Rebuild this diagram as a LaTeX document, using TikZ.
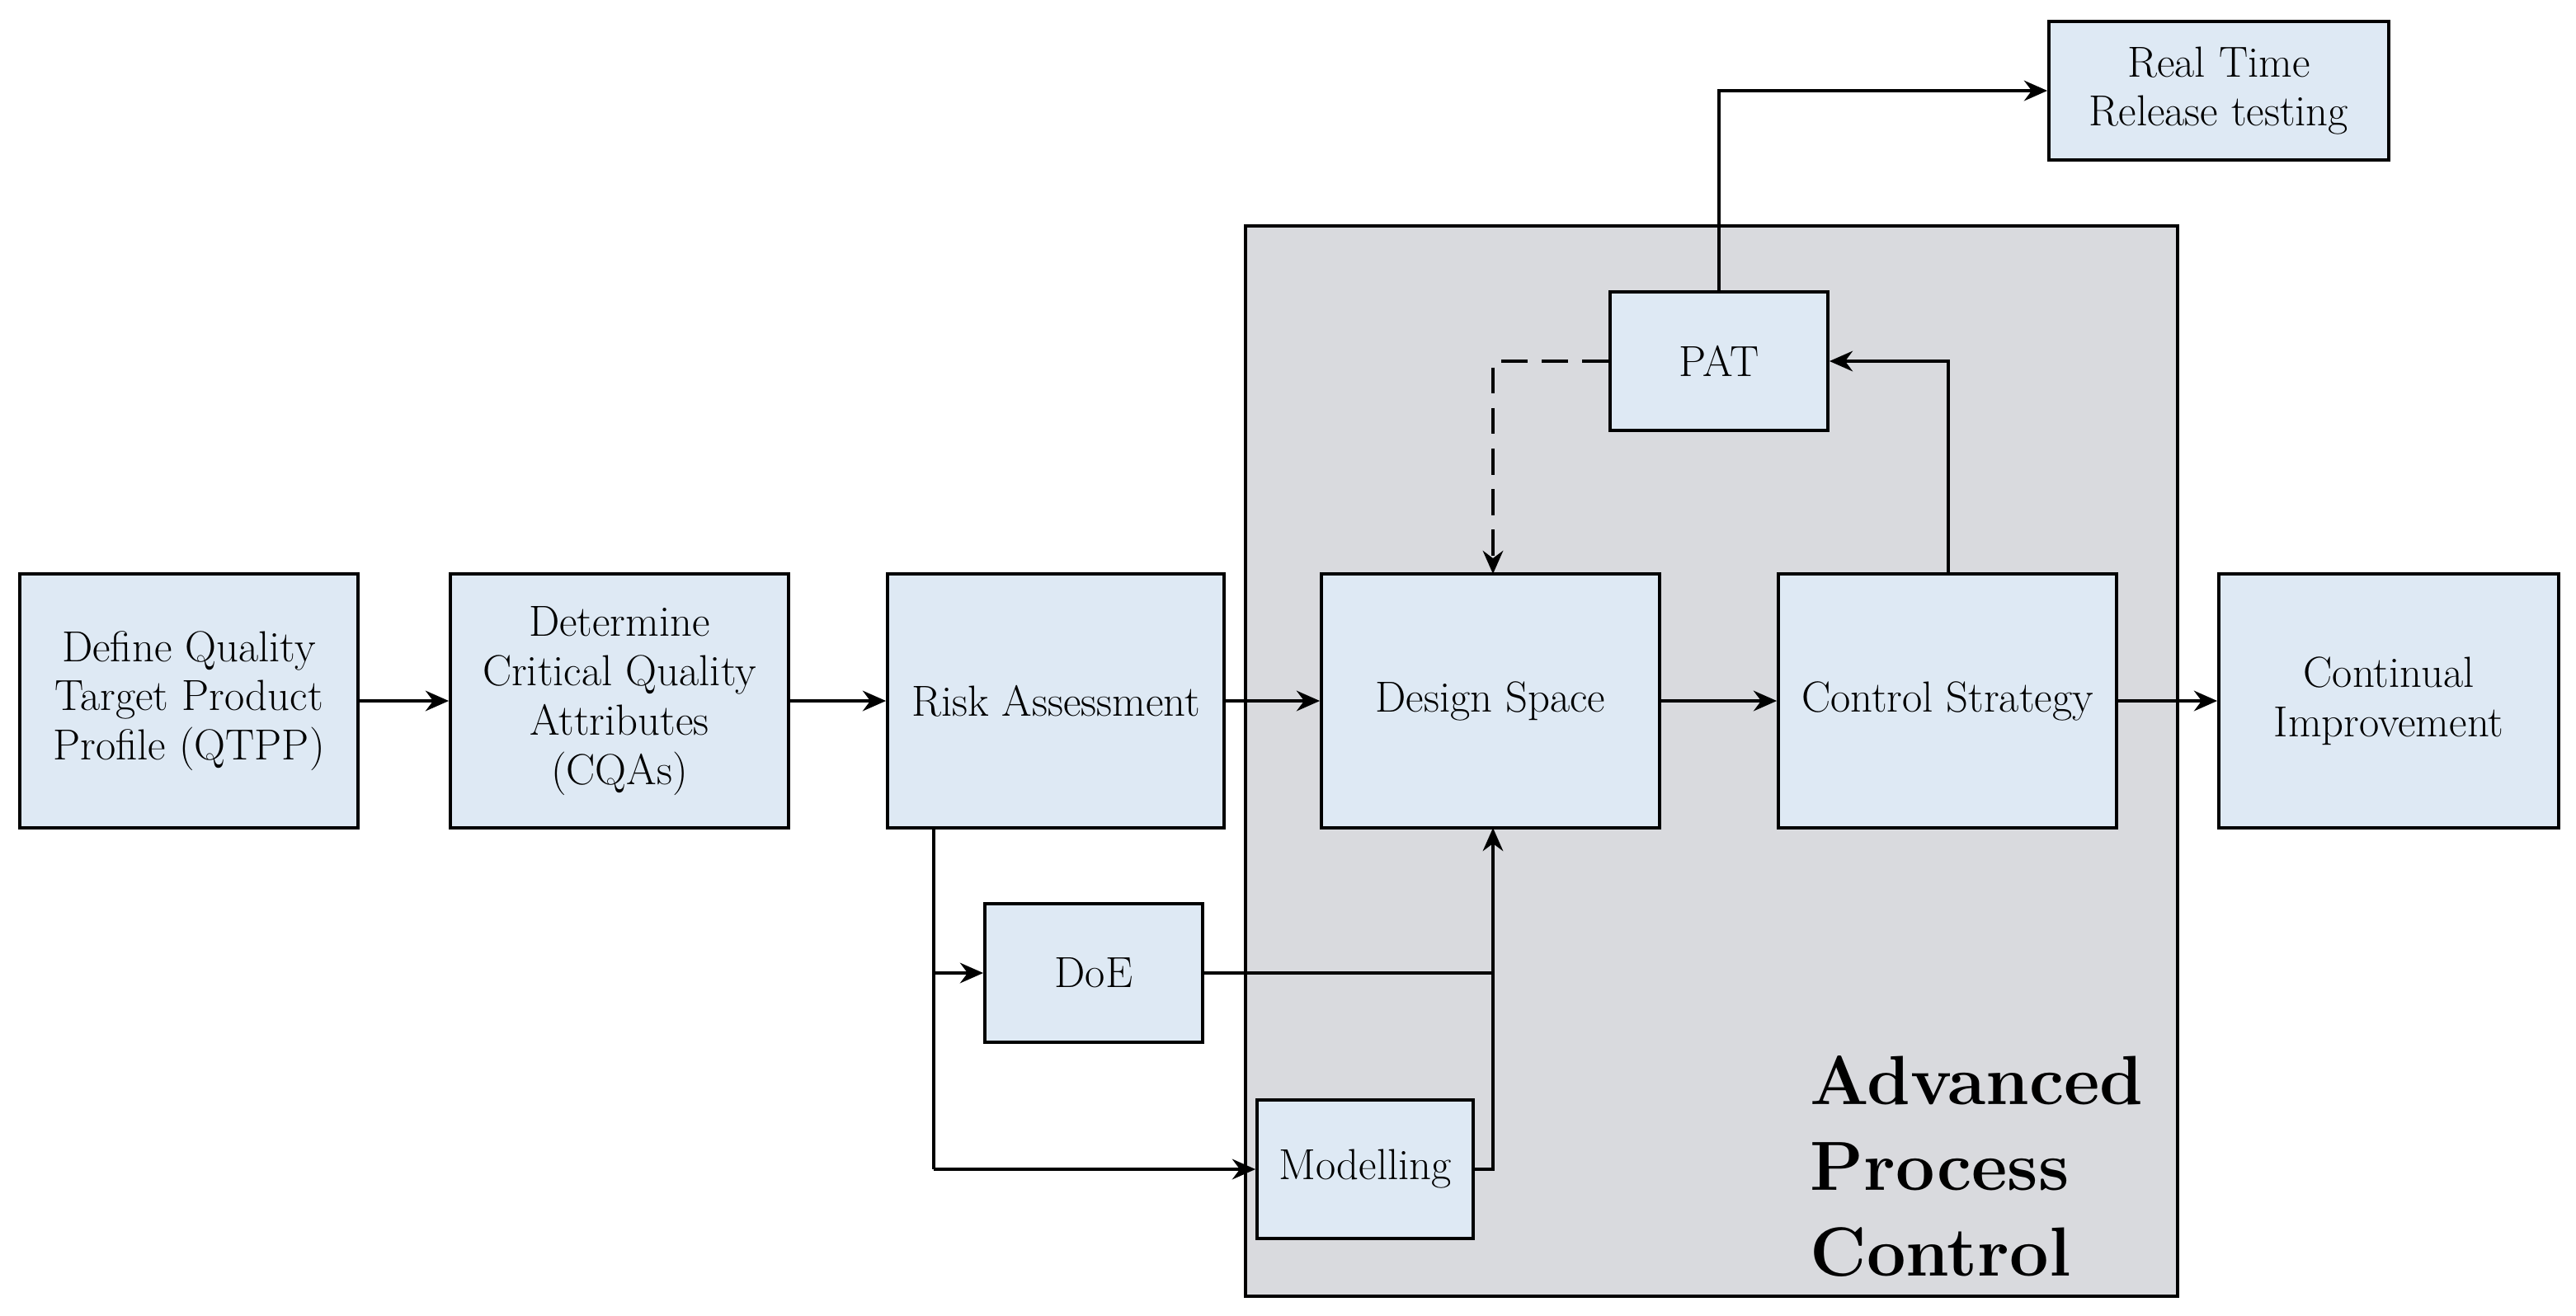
\documentclass[tikz,border=0pt]{standalone}
\usetikzlibrary{arrows.meta}
\begin{document}
\begin{tikzpicture}[x=0.02cm,y=-0.02cm,
 box/.style={draw,line width=1.1pt,fill=boxc,align=center,inner sep=0pt,font=\fontsize{15}{17}\selectfont},
 arr/.style={line width=1.1pt,-{Stealth[length=8pt,width=7pt]}},
 ln/.style={line width=1.1pt}]
\definecolor{boxc}{HTML}{DEE9F4}
\definecolor{grayc}{HTML}{D9DADE}
\useasboundingbox (0,0) rectangle (1561.5,797.5);
\node[draw,line width=1.1pt,fill=grayc,minimum width=565*0.02cm,minimum height=649*0.02cm,inner sep=0pt] (apc) at (1037.5,461.5) {};
\node[anchor=north west,align=left,font=\fontsize{24}{29.5}\bfseries\selectfont,inner sep=0pt] (apct) at (1097,640) {Advanced\\Process\\Control};
\newcommand{\bx}[6]{\node[box,minimum width=#4*0.02cm,minimum height=#5*0.02cm] (#1) at (#2,#3) {#6};}
\bx{q}{114.5}{425}{205}{154}{Define Quality\\Target Product\\Profile (QTPP)}
\bx{c}{375.5}{425}{205}{154}{Determine\\Critical Quality\\Attributes\\(CQAs)}
\bx{r}{640}{425}{204}{154}{Risk Assessment}
\bx{d}{903.5}{425}{205}{154}{Design Space}
\bx{cs}{1180.5}{425}{205}{154}{Control Strategy}
\bx{ci}{1448}{425}{206}{154}{Continual\\Improvement}
\bx{pat}{1042}{219}{132}{84}{PAT}
\bx{rt}{1345}{55}{206}{84}{Real Time\\Release testing}
\bx{doe}{663}{590}{132}{84}{DoE}
\bx{mod}{827.5}{709}{131}{84}{Modelling}
\draw[arr] (q) -- (c);
\draw[arr] (c) -- (r);
\draw[arr] (r) -- (d);
\draw[arr] (d) -- (cs);
\draw[arr] (cs) -- (ci);
\coordinate (rb) at (566,502);
\coordinate (rc) at (566,709);
\draw[ln] (rb) -- (rc);
\draw[arr] (566,590) -- (doe.west);
\draw[arr] (rc) -- (mod.west);
\coordinate (j) at (905,590);
\draw[ln] (doe.east) -- (j);
\draw[ln] (mod.east) -- (905,709) -- (j);
\draw[arr] (j) -- (905,502);
\draw[arr,dashed,dash pattern=on 9pt off 5pt] (pat.west) -- (905,219) -- (905,348);
\draw[arr] (1181,348) -- (1181,219) -- (pat.east);
\draw[arr] (pat.north) -- (1042,55) -- (rt.west);
\end{tikzpicture}
\end{document}
